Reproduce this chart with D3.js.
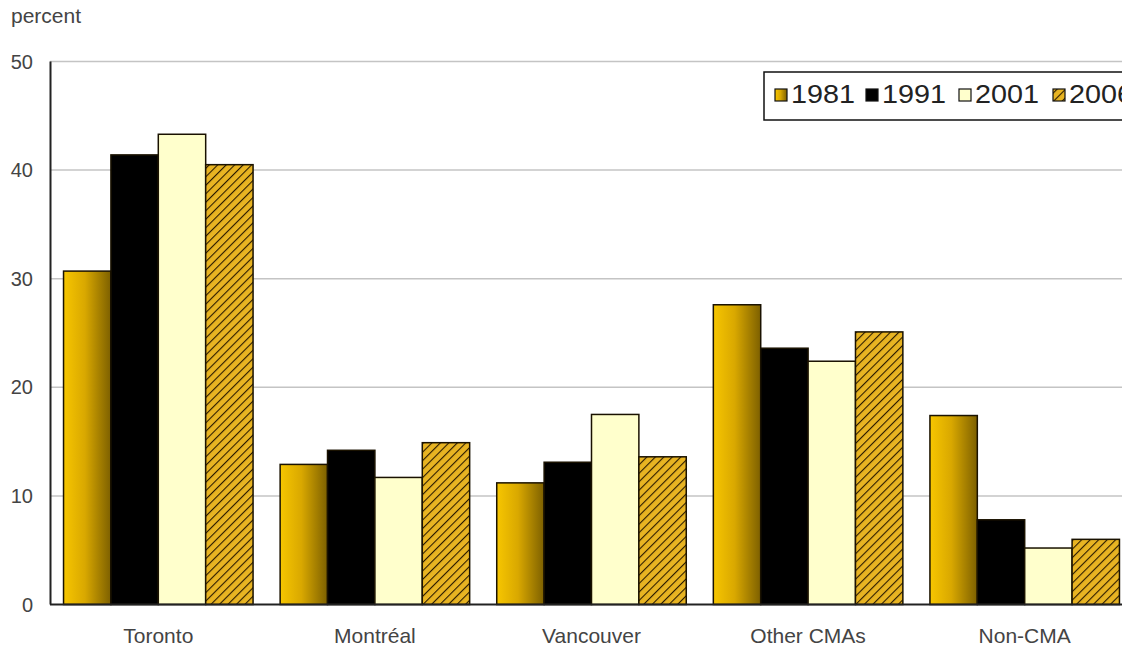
<!DOCTYPE html>
<html><head><meta charset="utf-8">
<script src="https://cdn.jsdelivr.net/npm/d3@7"></script>
<style>
body{margin:0;background:#fff;}
svg{display:block;font-family:"Liberation Sans",Arial,sans-serif;}
</style></head>
<body><svg id="chart" width="1122" height="649"></svg>
<script>
const categories = ["Toronto","Montréal","Vancouver","Other CMAs","Non-CMA"];
const years = ["1981","1991","2001","2006"];
const values1981 = [30.7, 12.9, 11.2, 27.6, 17.4];
const values1991 = [41.4, 14.2, 13.1, 23.6, 7.8];
const values2001 = [43.3, 11.7, 17.5, 22.4, 5.2];
const values2006 = [40.5, 14.9, 13.6, 25.1, 6.0];
const yTicks = [0, 10, 20, 30, 40, 50];

const series = [values1981, values1991, values2001, values2006];
const svg = d3.select("#chart");
const defs = svg.append("defs");
const grad = defs.append("linearGradient").attr("id","g1981").attr("x1","0").attr("x2","1").attr("y1","0").attr("y2","0");
grad.append("stop").attr("offset","0").attr("stop-color","#f7c600");
grad.append("stop").attr("offset","0.45").attr("stop-color","#d9a800");
grad.append("stop").attr("offset","1").attr("stop-color","#7d6000");
const pat = defs.append("pattern").attr("id","hatch").attr("patternUnits","userSpaceOnUse").attr("width",6).attr("height",6).attr("patternTransform","rotate(45)");
pat.append("rect").attr("width",6).attr("height",6).attr("fill","#e8b422");
pat.append("line").attr("x1",0).attr("y1",0).attr("x2",0).attr("y2",6).attr("stroke","#2a1a00").attr("stroke-width",2.2);
const fills = ["url(#g1981)","#000000","#ffffcc","url(#hatch)"];

const x = d3.scaleBand().domain(categories).range([50, 1133]).paddingInner(0.125).paddingOuter(0.0625);
const xi = d3.scaleBand().domain(years).range([0, x.bandwidth()]);
const y = d3.scaleLinear().domain([0, 50]).range([604.5, 61.5]);

// gridlines
svg.append("g").selectAll("line").data(yTicks.filter(d=>d>0)).join("line")
  .attr("x1",50).attr("x2",1133).attr("y1",d=>y(d)).attr("y2",d=>y(d))
  .attr("stroke","#c4c4c4").attr("stroke-width",1.5);

// y tick labels
svg.append("g").selectAll("text").data(yTicks).join("text")
  .attr("x",33).attr("y",d=>y(d)+7).attr("text-anchor","end")
  .attr("font-size",20).attr("fill","#444").text(d=>d);

svg.append("text").attr("x",11).attr("y",23).attr("font-size",21).attr("fill","#444").text("percent");

// bars
years.forEach((yr,i)=>{
  svg.append("g").selectAll("rect").data(series[i]).join("rect")
    .attr("x",(d,j)=>x(categories[j])+xi(yr))
    .attr("y",d=>y(d))
    .attr("width",xi.bandwidth())
    .attr("height",d=>y(0)-y(d))
    .attr("fill",fills[i])
    .attr("stroke","#1a1200").attr("stroke-width",1.5);
});

// axes
svg.append("line").attr("x1",50.5).attr("x2",50.5).attr("y1",y(50)).attr("y2",y(0)).attr("stroke","#222").attr("stroke-width",2);
svg.append("line").attr("x1",50).attr("x2",1133).attr("y1",y(0)).attr("y2",y(0)).attr("stroke","#222").attr("stroke-width",2);

// category labels
svg.append("g").selectAll("text").data(categories).join("text")
  .attr("x",d=>x(d)+x.bandwidth()/2).attr("y",643).attr("text-anchor","middle")
  .attr("font-size",21).attr("fill","#444").text(d=>d);

// legend
const lg = svg.append("g");
lg.append("rect").attr("x",764).attr("y",72).attr("width",420).attr("height",48)
  .attr("fill","#fff").attr("stroke","#111").attr("stroke-width",1.5);
const legX = [775, 866, 959, 1053];
years.forEach((yr,i)=>{
  lg.append("rect").attr("x",legX[i]).attr("y",89).attr("width",12).attr("height",12)
    .attr("fill",fills[i]).attr("stroke","#111").attr("stroke-width",1.2);
  lg.append("text").attr("x",legX[i]+16).attr("y",103).attr("font-size",25)
    .attr("textLength",64).attr("lengthAdjust","spacingAndGlyphs")
    .attr("fill","#222").text(yr);
});
</script></body></html>
